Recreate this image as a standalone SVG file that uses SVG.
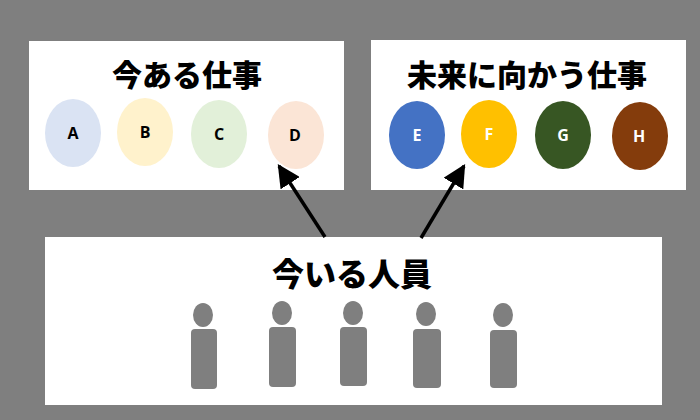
<svg xmlns="http://www.w3.org/2000/svg" width="700" height="420" viewBox="0 0 700 420">
<style>
.panel{fill:#ffffff}
.title{font-family:"Noto Sans CJK JP","Noto Sans",sans-serif;font-weight:900;fill:#000;text-anchor:middle}
.lbl{font-family:"Open Sans","Liberation Sans",sans-serif;font-weight:bold;font-size:16px;text-anchor:middle}
.dark{fill:#000}
.light{fill:#fff}
.person{fill:#7f7f7f}
.conn{stroke:#000;stroke-width:3.5;fill:none}
</style>
<defs>
<marker id="ah" viewBox="0 0 10 10" refX="9" refY="5" markerWidth="6.5" markerHeight="6.5" orient="auto" markerUnits="strokeWidth">
<path d="M0,0 L10,5 L0,10 Z" fill="#000"/>
</marker>
</defs>
<rect width="700" height="420" fill="#7f7f7f"/>
<g id="node-current-jobs">
<rect class="panel" x="29" y="41" width="315" height="149"/>
<text class="title" x="187" y="86" font-size="30">今ある仕事</text>
<ellipse cx="73" cy="133" rx="28" ry="34" fill="#dae3f3"/>
<text class="lbl dark" x="73" y="139">A</text>
<ellipse cx="145" cy="132" rx="28" ry="34" fill="#fff2cc"/>
<text class="lbl dark" x="145" y="138">B</text>
<ellipse cx="219" cy="134" rx="28" ry="34" fill="#e2f0d9"/>
<text class="lbl dark" x="219" y="140">C</text>
<ellipse cx="296" cy="135" rx="28" ry="34" fill="#fbe5d6"/>
<text class="lbl dark" x="295" y="141">D</text>
</g>
<g id="node-future-jobs">
<rect class="panel" x="371" y="40" width="315" height="150"/>
<text class="title" x="527" y="86" font-size="30">未来に向かう仕事</text>
<ellipse cx="417" cy="135" rx="28" ry="34" fill="#4472c4"/>
<text class="lbl light" x="417" y="141">E</text>
<ellipse cx="489" cy="134" rx="28" ry="34" fill="#ffc000"/>
<text class="lbl light" x="489" y="140">F</text>
<ellipse cx="563" cy="135" rx="28" ry="34" fill="#375623"/>
<text class="lbl light" x="563" y="141">G</text>
<ellipse cx="640" cy="136" rx="28" ry="34" fill="#843c0c"/>
<text class="lbl light" x="639" y="142">H</text>
</g>
<g id="node-staff">
<rect class="panel" x="45" y="237" width="617" height="168"/>
<text class="title" x="352" y="286" font-size="32">今いる人員</text>
<g class="person">
<ellipse cx="203" cy="315" rx="10" ry="12"/>
<rect x="191" y="329" width="26" height="60" rx="4"/>
<ellipse cx="282" cy="313" rx="10" ry="12"/>
<rect x="269" y="327" width="27" height="60" rx="4"/>
<ellipse cx="353" cy="313" rx="10" ry="12"/>
<rect x="340" y="327" width="27" height="59" rx="4"/>
<ellipse cx="426" cy="314" rx="10" ry="12"/>
<rect x="413" y="329" width="28" height="59" rx="4"/>
<ellipse cx="503" cy="315" rx="10" ry="12"/>
<rect x="490" y="330" width="27" height="58" rx="4"/>
</g>
</g>
<g id="connectors">
<line class="conn" x1="325" y1="237" x2="279" y2="166" marker-end="url(#ah)"/>
<line class="conn" x1="421" y1="238" x2="464" y2="166" marker-end="url(#ah)"/>
</g>
</svg>
